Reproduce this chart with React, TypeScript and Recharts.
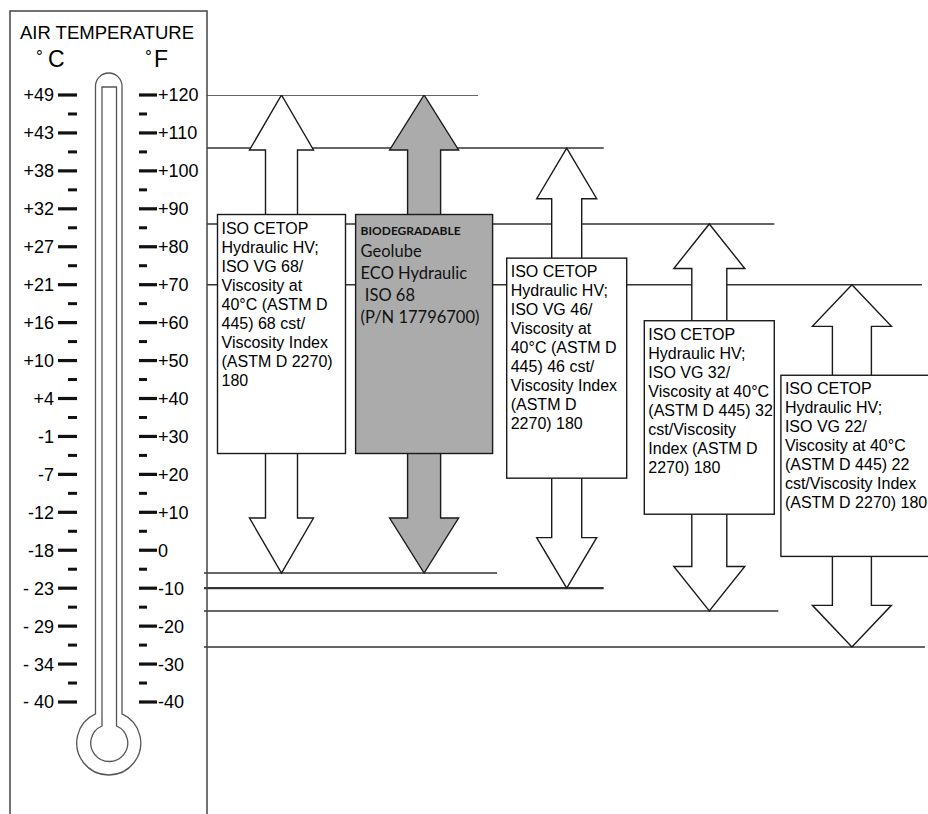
import React from 'react';
import { BarChart, Bar, XAxis, YAxis } from 'recharts';

const OILS = ['ISO VG 68', 'Geolube ECO Hydraulic ISO 68', 'ISO VG 46', 'ISO VG 32', 'ISO VG 22'];
const MIN_F = [-6, -6, -10, -16, -25.5];
const MAX_F = [120, 120, 106, 86, 70];

const BOX_TEXT = [
  ['ISO CETOP', 'Hydraulic HV;', 'ISO VG 68/', 'Viscosity at', '40°C (ASTM D', '445) 68 cst/', 'Viscosity Index', '(ASTM D 2270)', '180'],
  ['BIODEGRADABLE', 'Geolube', 'ECO Hydraulic', '\u00a0ISO 68', '(P/N 17796700)'],
  ['ISO CETOP', 'Hydraulic HV;', 'ISO VG 46/', 'Viscosity at', '40°C (ASTM D', '445) 46 cst/', 'Viscosity Index', '(ASTM D', '2270) 180'],
  ['ISO CETOP', 'Hydraulic HV;', 'ISO VG 32/', 'Viscosity at 40°C', '(ASTM D 445) 32', 'cst/Viscosity', 'Index (ASTM D', '2270) 180'],
  ['ISO CETOP', 'Hydraulic HV;', 'ISO VG 22/', 'Viscosity at 40°C', '(ASTM D 445) 22', 'cst/Viscosity Index', '(ASTM D 2270) 180'],
];

// thermometer scale
const F_TICKS = [120, 110, 100, 90, 80, 70, 60, 50, 40, 30, 20, 10, 0, -10, -20, -30, -40];
const C_LABELS = ['+49', '+43', '+38', '+32', '+27', '+21', '+16', '+10', '+4', '-1', '-7', '-12', '-18', '- 23', '- 29', '- 34', '- 40'];

// styling per arrow
const SHAFT_W = [32, 33, 30, 35, 39];
const HEAD_W = [64, 69, 60, 71, 79];
const BOX_W = [128, 137, 120, 130, 150];
const LINE_EXT_TOP = [0, 54, 37, 65, 70];
const LINE_EXT_BOT = [0, 73, 37, 69, 73];
const FILL = ['#fff', '#ababab', '#fff', '#fff', '#fff'];

const LINE_START = 207;
const INK = '#1a1a1a';
const SANS = '"Liberation Sans", Arial, Helvetica, sans-serif';

const data = OILS.map((name, i) => ({ name, range: [MIN_F[i], MAX_F[i]], i }));

const allTicks = F_TICKS.flatMap((v, i) => (i < F_TICKS.length - 1 ? [v, (v + F_TICKS[i + 1]) / 2] : [v]));

const fLabel = (v: number) => (v > 0 ? `+${v}` : `${v}`);

const span = (props: any) => {
  const top = Math.min(props.y, props.y + props.height);
  const bottom = Math.max(props.y, props.y + props.height);
  const i = props.payload?.i ?? props.index;
  return { top, bottom, i, cx: props.x + props.width / 2 };
};

const RangeLines = (props: any) => {
  const { top, bottom, i, cx } = span(props);
  const drawTop = !MAX_F.some((v, j) => j > i && v === MAX_F[i]);
  const drawBot = !MIN_F.some((v, j) => j > i && v === MIN_F[i]);
  return (
    <g>
      {drawTop && <line x1={LINE_START} x2={cx + LINE_EXT_TOP[i]} y1={top} y2={top} stroke="#333" strokeWidth={1.5} />}
      {drawBot && (
        <line x1={LINE_START - 3} x2={cx + LINE_EXT_BOT[i]} y1={bottom} y2={bottom} stroke="#333" strokeWidth={MIN_F[i] === -10 ? 2.2 : 1.5} />
      )}
    </g>
  );
};

const RangeArrow = (props: any) => {
  const { top, bottom, i, cx } = span(props);
  const len = bottom - top;
  const hl = len * 0.115;
  const hw = HEAD_W[i] / 2;
  const sw = SHAFT_W[i] / 2;
  const d = [
    `M${cx},${top}`,
    `L${cx + hw},${top + hl}`,
    `L${cx + sw},${top + hl}`,
    `L${cx + sw},${bottom - hl}`,
    `L${cx + hw},${bottom - hl}`,
    `L${cx},${bottom}`,
    `L${cx - hw},${bottom - hl}`,
    `L${cx - sw},${bottom - hl}`,
    `L${cx - sw},${top + hl}`,
    `L${cx - hw},${top + hl}`,
    'Z',
  ].join(' ');
  const bx = cx - Math.min(BOX_W[i], 142) / 2;
  const by = top + len * 0.25;
  const bh = len * 0.5;
  const bio = i === 1;
  return (
    <g>
      <path d={d} fill={FILL[i]} stroke={INK} strokeWidth={1.4} strokeLinejoin="miter" />
      <rect x={bx} y={by} width={BOX_W[i]} height={bh} fill={FILL[i]} stroke={INK} strokeWidth={1.4} />
      {bio ? (
        <text fill="#111" fontFamily="Lato, 'Open Sans', sans-serif">
          {BOX_TEXT[i].map((t, k) => (
            <tspan
              key={k}
              x={bx + 5}
              y={by + 20 + k * 22}
              fontSize={k === 0 ? 12 : 16.5}
              fontWeight={k === 0 ? 700 : 400}
            >
              {t}
            </tspan>
          ))}
        </text>
      ) : (
        <text fill="#000" fontFamily={SANS} fontSize={16}>
          {BOX_TEXT[i].map((t, k) => (
            <tspan key={k} x={bx + 4} y={by + 19 + k * 19}>
              {t}
            </tspan>
          ))}
        </text>
      )}
    </g>
  );
};

const ThermoTick = (props: any) => {
  const { y, payload } = props;
  const v = payload.value;
  const k = F_TICKS.indexOf(v);
  if (k < 0) {
    return (
      <g>
        <line x1={68} x2={77} y1={y} y2={y} stroke="#111" strokeWidth={3} />
        <line x1={139} x2={147} y1={y} y2={y} stroke="#111" strokeWidth={3} />
      </g>
    );
  }
  return (
    <g>
      <text x={54} y={y} dy="0.36em" textAnchor="end" fontSize={18} fontFamily={SANS} fill="#000">
        {C_LABELS[k]}
      </text>
      <line x1={58} x2={77} y1={y} y2={y} stroke="#111" strokeWidth={3.2} />
      <line x1={139} x2={157} y1={y} y2={y} stroke="#111" strokeWidth={3.2} />
      <text x={158} y={y} dy="0.36em" textAnchor="start" fontSize={18} fontFamily={SANS} fill="#000">
        {fLabel(v)}
      </text>
    </g>
  );
};

const ThermoBody = (props: any) => {
  const vb = props.viewBox || {};
  const yTop = vb.y ?? 95;
  const yBot = yTop + (vb.height ?? 607);
  const oL = 95.5;
  const oR = 122;
  const iL = 102;
  const iR = 116.5;
  const cx = 108.75;
  const cy = yBot + 41;
  const rO = 32;
  const rI = 18.5;
  const oJoin = cy - Math.sqrt(rO * rO - ((oR - oL) / 2) ** 2);
  const iJoin = cy - Math.sqrt(rI * rI - ((iR - iL) / 2) ** 2);
  const oTop = yTop - 22 + (oR - oL) / 2;
  const outer = `M${oL},${oJoin} L${oL},${oTop} A${(oR - oL) / 2},${(oR - oL) / 2} 0 0 1 ${oR},${oTop} L${oR},${oJoin} A${rO},${rO} 0 1 1 ${oL},${oJoin} Z`;
  const inner = `M${iL},${iJoin} L${iL},${yTop - 8} L${iR},${yTop - 8} L${iR},${iJoin} A${rI},${rI} 0 1 1 ${iL},${iJoin} Z`;
  return (
    <g>
      <rect x={10} y={11} width={197} height={840} fill="none" stroke="#444" strokeWidth={1.5} />
      <text x={107} y={38.5} textAnchor="middle" fontSize={18.5} fontFamily={SANS} fill="#000">
        AIR TEMPERATURE
      </text>
      <text fontFamily={SANS} fill="#000">
        <tspan x={36} y={62} fontSize={17}>°</tspan>
        <tspan x={48} y={67} fontSize={23}>C</tspan>
        <tspan x={145} y={62} fontSize={17}>°</tspan>
        <tspan x={154} y={67} fontSize={23}>F</tspan>
      </text>
      <path d={outer} fill="none" stroke="#555" strokeWidth={1.3} />
      <path d={inner} fill="none" stroke="#555" strokeWidth={1.3} />
    </g>
  );
};

export default function App() {
  return (
    <div style={{ position: 'absolute', left: 0, top: 0, width: 928, height: 814, background: '#fff' }}>
      <BarChart
        width={928}
        height={814}
        data={data}
        margin={{ top: 95, right: 5, bottom: 112, left: 0 }}
        barCategoryGap={0}
        barGap="-100%"
      >
        <XAxis dataKey="name" type="category" hide />
        <YAxis
          type="number"
          domain={[-40, 120]}
          allowDataOverflow
          ticks={allTicks}
          interval={0}
          width={210}
          axisLine={false}
          tickLine={false}
          tick={<ThermoTick />}
          label={<ThermoBody />}
        />
        <Bar dataKey="range" shape={<RangeLines />} isAnimationActive={false} />
        <Bar dataKey="range" shape={<RangeArrow />} isAnimationActive={false} />
      </BarChart>
    </div>
  );
}
